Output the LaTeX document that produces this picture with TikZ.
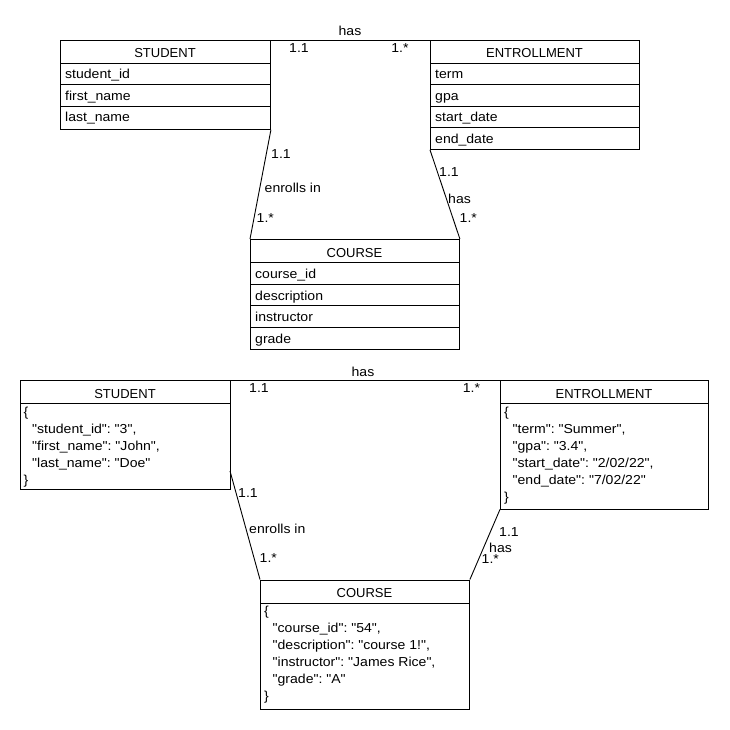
\documentclass[tikz,border=0pt]{standalone}
\usepackage{fontspec}
\newfontfamily\bodyf{Liberation Sans}[FakeStretch=1.08]
\newfontfamily\titlef{Liberation Sans}
\begin{document}
\begin{tikzpicture}[x=1pt,y=-1pt,
  every node/.style={inner sep=0pt},
  ent/.style={draw, line width=0.9pt, anchor=north west, inner sep=0pt},
  row/.style={line width=0.9pt},
  txt/.style={anchor=base west, font=\bodyf\fontsize{13}{16}\selectfont\frenchspacing},
  ttl/.style={anchor=base, font=\titlef\fontsize{13}{16}\selectfont},
  lbl/.style={anchor=base west, font=\bodyf\fontsize{13}{16}\selectfont},
  clbl/.style={anchor=base, font=\bodyf\fontsize{13}{16}\selectfont},
  conn/.style={line width=0.9pt}]
\useasboundingbox (0,0) rectangle (730,730);

% ---------- top diagram ----------
\node[ent, minimum width=210pt, minimum height=89pt] (s1) at (60,40) {};
\draw[row] (60,63) -- (270,63);
\draw[row] (60,84.5) -- (270,84.5);
\draw[row] (60,106) -- (270,106);
\node[ttl] (s1t) at (165,57.5) {STUDENT};
\node[txt] (s1a) at (65,79) {student\_id};
\node[txt] (s1b) at (65,100.5) {first\_name};
\node[txt] (s1c) at (65,122) {last\_name};

\node[ent, minimum width=209pt, minimum height=109pt] (e1) at (430,40) {};
\draw[row] (430,63) -- (639,63);
\draw[row] (430,84.5) -- (639,84.5);
\draw[row] (430,106) -- (639,106);
\draw[row] (430,127.5) -- (639,127.5);
\node[ttl] (e1t) at (534.5,57.5) {ENTROLLMENT};
\node[txt] (e1a) at (435,79) {term};
\node[txt] (e1b) at (435,100.5) {gpa};
\node[txt] (e1c) at (435,122) {start\_date};
\node[txt] (e1d) at (435,143.5) {end\_date};

\node[ent, minimum width=209pt, minimum height=109.5pt] (c1) at (250,239) {};
\draw[row] (250,262.5) -- (459,262.5);
\draw[row] (250,284) -- (459,284);
\draw[row] (250,305.5) -- (459,305.5);
\draw[row] (250,327) -- (459,327);
\node[ttl] (c1t) at (354.5,257) {COURSE};
\node[txt] (c1a) at (255,278.5) {course\_id};
\node[txt] (c1b) at (255,300) {description};
\node[txt] (c1c) at (255,321.5) {instructor};
\node[txt] (c1d) at (255,343) {grade};

\draw[conn] (s1.north east) -- (e1.north west);
\draw[conn] (s1.south east) -- (c1.north west);
\draw[conn] (e1.south west) -- (c1.north east);

\node[clbl] (h1) at (350,36) {has};
\node[clbl] (h1a) at (299,53) {1.1};
\node[clbl] (h1b) at (400,53) {1.*};
\node[lbl] (en1a) at (271,159) {1.1};
\node[lbl] (en1) at (264.5,192.5) {enrolls in};
\node[lbl] (en1b) at (256.5,222.5) {1.*};
\node[lbl] (hc1a) at (439,177) {1.1};
\node[lbl] (hc1) at (448,203.5) {has};
\node[lbl] (hc1b) at (459.5,222.5) {1.*};

% ---------- bottom diagram ----------
\node[ent, minimum width=210pt, minimum height=109pt] (s2) at (20,380) {};
\draw[row] (20,403.5) -- (230,403.5);
\node[ttl] (s2t) at (125,398) {STUDENT};
\node[txt] (s2a) at (23.5,416) {\{};
\node[txt] (s2b) at (32,433) {"student\_id": "3",};
\node[txt] (s2c) at (32,450) {"first\_name": "John",};
\node[txt] (s2d) at (32,467) {"last\_name": "Doe"};
\node[txt] (s2e) at (23.5,484) {\}};

\node[ent, minimum width=208pt, minimum height=128.5pt] (e2) at (500,380) {};
\draw[row] (500,403.5) -- (708,403.5);
\node[ttl] (e2t) at (604,398) {ENTROLLMENT};
\node[txt] (e2a) at (504,416) {\{};
\node[txt] (e2b) at (512.5,433) {"term": "Summer",};
\node[txt] (e2c) at (512.5,450) {"gpa": "3.4",};
\node[txt] (e2d) at (512.5,467) {"start\_date": "2/02/22",};
\node[txt] (e2e) at (512.5,484) {"end\_date": "7/02/22"};
\node[txt] (e2f) at (504,501) {\}};

\node[ent, minimum width=209pt, minimum height=129pt] (c2) at (260,579.5) {};
\draw[row] (260,603) -- (469,603);
\node[ttl] (c2t) at (364.5,597.5) {COURSE};
\node[txt] (c2a) at (264,615.5) {\{};
\node[txt] (c2b) at (272.5,632.5) {"course\_id": "54",};
\node[txt] (c2c) at (272.5,649.5) {"description": "course 1!",};
\node[txt] (c2d) at (272.5,666.5) {"instructor": "James Rice",};
\node[txt] (c2e) at (272.5,683.5) {"grade": "A"};
\node[txt] (c2f) at (264,700.5) {\}};

\coordinate (s2r) at (230,471);
\draw[conn] (s2.north east) -- (e2.north west);
\draw[conn] (s2r) -- (c2.north west);
\draw[conn] (e2.south west) -- (c2.north east);

\node[clbl] (h2) at (363,376.5) {has};
\node[clbl] (h2a) at (259,392.5) {1.1};
\node[clbl] (h2b) at (471.5,392.5) {1.*};
\node[lbl] (en2a) at (238,497.5) {1.1};
\node[lbl] (en2) at (249,533.5) {enrolls in};
\node[lbl] (en2b) at (259.5,562.5) {1.*};
\node[lbl] (hc2a) at (499,536.5) {1.1};
\node[lbl] (hc2) at (489,552.5) {has};
\node[lbl] (hc2b) at (481.5,563.5) {1.*};
\end{tikzpicture}
\end{document}
